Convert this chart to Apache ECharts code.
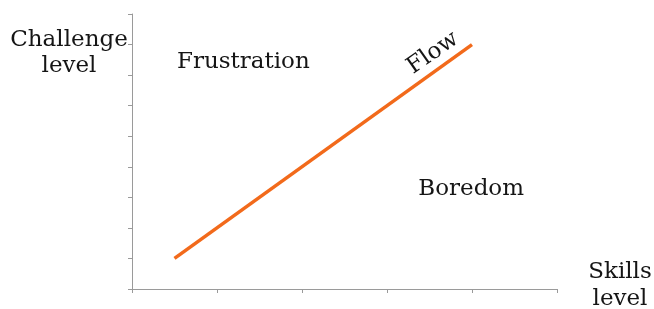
<!DOCTYPE html>
<html>
<head>
<meta charset="utf-8">
<script src="https://cdn.jsdelivr.net/npm/echarts@6/dist/echarts.min.js"></script>
<style>
  html, body { margin: 0; padding: 0; background: #fff; }
  #chart { width: 654px; height: 309px; }
</style>
</head>
<body>
<div id="chart"></div>
<script>
// skill (x) vs challenge (y), in arbitrary axis units
const flowLine = [[0.5, 1], [4, 8]];
const regionLabels = [
  { name: "Frustration", pos: [1.31, 7.43], rotate: 0 },
  { name: "Boredom", pos: [3.99, 3.27], rotate: 0 },
  { name: "Flow", pos: [3.54, 7.72], rotate: 35 }
];
const xRange = [0, 5];
const yRange = [0, 9];

const chart = echarts.init(document.getElementById("chart"));
const serif = "DejaVu Serif";
const axisColor = "#9a9a9a";
const textColor = "#151515";

const option = {
  animation: false,
  grid: { left: 132, right: 97, top: 14, bottom: 20 },
  xAxis: {
    type: "value",
    min: xRange[0],
    max: xRange[1],
    interval: 1,
    axisLine: { lineStyle: { color: axisColor, width: 1 } },
    axisTick: { show: true, length: 4, lineStyle: { color: axisColor } },
    axisLabel: { show: false },
    splitLine: { show: false }
  },
  yAxis: {
    type: "value",
    min: yRange[0],
    max: yRange[1],
    interval: 1,
    axisLine: { show: true, lineStyle: { color: axisColor, width: 1 } },
    axisTick: { show: true, length: 4, lineStyle: { color: axisColor } },
    axisLabel: { show: false },
    splitLine: { show: false }
  },
  series: [
    {
      type: "line",
      data: flowLine,
      symbol: "none",
      lineStyle: { color: "#f26a1b", width: 3.5 }
    },
    {
      type: "scatter",
      symbolSize: 0,
      silent: true,
      itemStyle: { opacity: 1 },
      data: regionLabels.map(d => ({
        value: d.pos,
        label: {
          show: true,
          position: "inside",
          formatter: d.name,
          rotate: d.rotate,
          fontFamily: serif,
          fontSize: 23,
          color: textColor,
          opacity: 1
        }
      }))
    }
  ],
  graphic: [
    {
      type: "text",
      x: 69,
      y: 53,
      style: {
        text: "Challenge\nlevel",
        font: "23px " + serif,
        fill: textColor,
        align: "center",
        verticalAlign: "middle",
        lineHeight: 26
      }
    },
    {
      type: "text",
      x: 620,
      y: 286,
      style: {
        text: "Skills\nlevel",
        font: "23px " + serif,
        fill: textColor,
        align: "center",
        verticalAlign: "middle",
        lineHeight: 27
      }
    }
  ]
};

chart.setOption(option);
</script>
</body>
</html>
